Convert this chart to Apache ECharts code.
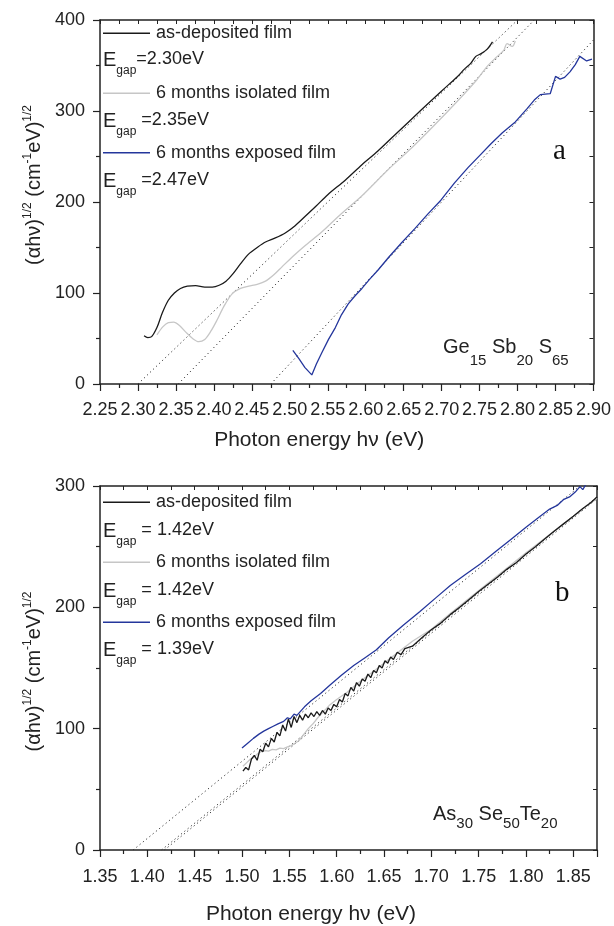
<!DOCTYPE html>
<html><head><meta charset="utf-8">
<script src="https://cdn.jsdelivr.net/npm/echarts@6/dist/echarts.min.js"></script>
<style>html,body{margin:0;padding:0;background:#fff}#c{width:614px;height:926px}</style>
</head><body><div id="c"></div>
<script>
const FONT = "'Liberation Sans', Arial, Helvetica, sans-serif";
const SERIF = "'Liberation Serif', 'Times New Roman', serif";

// ---------- legend / annotation text ----------
const legendNames = ['as-deposited film', '6 months isolated film', '6 months exposed film'];
const egapA = ['=2.30eV', ' =2.35eV', ' =2.47eV'];
const egapB = [' = 1.42eV', ' = 1.42eV', ' = 1.39eV'];

// ---------- axes (ranges and tick steps) ----------
const aXRange = [2.25, 2.90], aXStep = 0.05;
const aYRange = [0, 400], aYStep = 100;
const bXRange = [1.35, 1.875], bXStep = 0.05;
const bYRange = [0, 300], bYStep = 100;

// ---------- panel a : Ge15Sb20S65 ----------
const aDepX = [2.308,2.313,2.318,2.325,2.332,2.340,2.348,2.356,2.365,2.376,2.388,2.398,2.407,2.416,2.425,2.435,2.446,2.457,2.468,2.481,2.494,2.507,2.520,2.534,2.550,2.573,2.595,2.616,2.640,2.673,2.700,2.721,2.730,2.738,2.745,2.752,2.760,2.767];
const aDepY = [53,51,52,62,78,92,100,105,107.5,108,106.5,106.5,108.5,113,121,132,143,150,156,160.5,166,174,184,195,208,224,241,256,275,301,322,338,346,352,360,363,368,376];

const aIsoX = [2.325,2.333,2.340,2.347,2.355,2.363,2.372,2.380,2.388,2.396,2.404,2.413,2.424,2.435,2.446,2.457,2.468,2.479,2.490,2.505,2.520,2.542,2.565,2.594,2.630,2.660,2.690,2.721,2.745,2.760,2.772,2.782,2.786,2.793,2.797];
const aIsoY = [54,63,67.5,68,64,57,50,46.5,49,58,70,85,99,105,107.5,109.5,113,120,129,141,152,167,185,206,236,259,284,311,333,349,359,367,374,371,377];

const aExpX = [2.504,2.512,2.520,2.529,2.535,2.542,2.551,2.560,2.568,2.577,2.586,2.595,2.605,2.616,2.630,2.647,2.665,2.682,2.699,2.717,2.735,2.750,2.765,2.780,2.797,2.812,2.822,2.830,2.843,2.850,2.856,2.862,2.869,2.876,2.882,2.891,2.898];
const aExpY = [37,28,18,10,22,34,49,62,76,88,97,105,115,125,139,155,171,187,202,221,238,251,264,276,288,302,312,318,319,338,335,337,343,351,360,355,357];

const aFitDep = [[2.30, 0], [2.80, 400]];
const aFitIso = [[2.353, 0], [2.822, 400]];
const aFitExp = [[2.475, 0], [2.90, 378]];

// ---------- panel b : As30Se50Te20 ----------
const bDepX = [1.501,1.504,1.507,1.510,1.513,1.516,1.519,1.522,1.525,1.528,1.531,1.534,1.537,1.540,1.543,1.546,1.549,1.552,1.555,1.558,1.561,1.564,1.567,1.570,1.573,1.576,1.579,1.582,1.585,1.588,1.591,1.594,1.597,1.600,1.603,1.606,1.609,1.612,1.615,1.618,1.621,1.624,1.627,1.630,1.633,1.636,1.639,1.642,1.645,1.648,1.651,1.654,1.657,1.660,1.664,1.668,1.672,1.680,1.690,1.700,1.710,1.720,1.730,1.740,1.750,1.760,1.770,1.780,1.790,1.800,1.810,1.820,1.830,1.840,1.850,1.860,1.868,1.875];
const bDepY = [65,68,66,75,78,74,83,81,88,85,92,89,97,94,103,98,108,101,110,105,111,107,112,109,113,110,114,111,115,112,117,115,120,118,124,122,129,127,134,131,138,135,141,139,145,142,148,146,152,150,156,154,159,157,163,161,166,168,175,181.5,187,194,200,206.5,213,219,225,231.5,237,244,250,256.5,263,269,275,281.5,286,291];

const bIsoX = [1.501,1.505,1.509,1.512,1.516,1.520,1.524,1.528,1.532,1.536,1.540,1.544,1.548,1.552,1.556,1.560,1.565,1.570,1.575,1.580,1.586,1.592,1.600,1.611,1.625,1.640,1.660,1.680,1.700,1.720,1.740,1.760,1.780,1.800,1.820,1.840,1.860,1.875];
const bIsoY = [69,72,75,76,79,81,82,81.5,83,82.5,84,83.5,85,86,88,90,95,100,104,109,114,119,124,130,139,148,160,172,182,195,207.5,220,232.5,245,257,269,281,290];

const bExpX = [1.500,1.506,1.512,1.518,1.523,1.528,1.533,1.538,1.544,1.548,1.551,1.555,1.558,1.566,1.573,1.583,1.593,1.605,1.618,1.630,1.642,1.655,1.670,1.688,1.705,1.720,1.736,1.752,1.768,1.784,1.800,1.815,1.825,1.833,1.840,1.846,1.852,1.857,1.860,1.863];
const bExpY = [84,88,92,95.5,98,100,102,104,106,109,108,112,111,118,123,129,136,144,152,158.5,165,175,185,196.5,208,218,227,236,246,256,266,275,281,284,289,291,295,299.5,297,301];

const bFitDep = [[1.415, 0], [1.875, 291]];
const bFitIso = [[1.418, 0], [1.875, 289.5]];
const bFitExp = [[1.385, 0], [1.857, 300]];

const COL_DEP = '#1a1a1a', COL_ISO = '#c6c6c6', COL_EXP = '#24369c';
const COLS = [COL_DEP, COL_ISO, COL_EXP];
const AXC = '#222';

function pairs(xs, ys) { return xs.map((x, i) => [x, ys[i]]); }

function curve(name, xs, ys, color, gi, smooth) {
  return { type: 'line', name, xAxisIndex: gi * 2, yAxisIndex: gi * 2, data: pairs(xs, ys),
    symbol: 'none', smooth: smooth || false, silent: true, z: 3,
    lineStyle: { color, width: 1.3 }, itemStyle: { color } };
}
function fit(data, gi) {
  return { type: 'line', xAxisIndex: gi * 2, yAxisIndex: gi * 2, data, symbol: 'none', silent: true, z: 2,
    lineStyle: { color: '#333', width: 1, type: [1.2, 3] } };
}

function mainX(gi, range, step, nameGap, padRight, margin) {
  return { gridIndex: gi, type: 'value', min: range[0], max: range[1], interval: step,
    axisLine: { show: true, onZero: false, lineStyle: { color: AXC, width: 1.5 } },
    axisTick: { show: true, length: 7, lineStyle: { color: AXC, width: 1.2 } },
    minorTick: { show: true, splitNumber: 2, length: 4, lineStyle: { color: AXC, width: 1.2 } },
    splitLine: { show: false }, minorSplitLine: { show: false },
    axisLabel: { fontSize: 18, fontFamily: FONT, color: AXC, margin, showMaxLabel: range[1] === 2.90,
      formatter: v => v.toFixed(2) },
    name: 'Photon energy hν (eV)', nameLocation: 'middle', nameGap,
    nameTextStyle: { fontSize: 21, fontFamily: FONT, color: AXC, padding: [0, padRight, 0, 0] } };
}
function topX(gi, range) {
  return { gridIndex: gi, type: 'value', position: 'top', min: range[0], max: range[1], interval: 0.025,
    axisLine: { show: true, onZero: false, lineStyle: { color: AXC, width: 1.5 } },
    axisTick: { show: true, inside: true, length: 4, lineStyle: { color: AXC, width: 1 } },
    axisLabel: { show: false }, splitLine: { show: false } };
}
const yRich = {
  m: { fontSize: 20, fontFamily: FONT, color: AXC, lineHeight: 24, verticalAlign: 'middle' },
  s: { fontSize: 12, fontFamily: FONT, color: AXC, lineHeight: 12, verticalAlign: 'top' }
};
function mainY(gi, range, step, padL, padR) {
  return { gridIndex: gi, type: 'value', min: range[0], max: range[1], interval: step,
    axisLine: { show: true, onZero: false, lineStyle: { color: AXC, width: 1.5 } },
    axisTick: { show: true, length: 7, lineStyle: { color: AXC, width: 1.2 } },
    minorTick: { show: true, splitNumber: 2, length: 4, lineStyle: { color: AXC, width: 1.2 } },
    splitLine: { show: false },
    axisLabel: { fontSize: 18, fontFamily: FONT, color: AXC, margin: 15 },
    name: '{m|(αhν)}{s|1/2}{m| (cm}{s|-1}{m|eV)}{s|1/2}', nameLocation: 'middle', nameGap: 52, nameRotate: 90,
    nameTextStyle: { rich: yRich, padding: [0, padR, 0, padL] } };
}
function rightY(gi, range) {
  return { gridIndex: gi, type: 'value', position: 'right', min: range[0], max: range[1], interval: 50,
    axisLine: { show: true, onZero: false, lineStyle: { color: AXC, width: 1.5 } },
    axisTick: { show: true, inside: true, length: 4, lineStyle: { color: AXC, width: 1 } },
    axisLabel: { show: false }, splitLine: { show: false } };
}

// legend drawn as graphic keys: a short line and its label for each series
function legendKeys(ys) {
  const out = [];
  ys.forEach((y, i) => {
    out.push({ type: 'line', silent: true, shape: { x1: 103, y1: y, x2: 150, y2: y },
      style: { stroke: COLS[i], lineWidth: 1.4 } });
    out.push({ type: 'text', silent: true, x: 156, y: y,
      style: { text: legendNames[i], fontSize: 18, fontFamily: FONT, fill: AXC, verticalAlign: 'middle', align: 'left' } });
  });
  return out;
}

const egRich = {
  E: { fontSize: 20, fontFamily: FONT, fill: AXC, lineHeight: 18, verticalAlign: 'top' },
  g: { fontSize: 12, fontFamily: FONT, fill: AXC, lineHeight: 12, verticalAlign: 'bottom' },
  t: { fontSize: 18, fontFamily: FONT, fill: AXC, lineHeight: 18, verticalAlign: 'top' },
  z: { fontSize: 2, lineHeight: 27 }
};
function egapText(txt, top) {
  return { type: 'text', left: 103, top, silent: true,
    style: { text: '{E|E}{g|gap}{t|' + txt + '}{z| }', rich: egRich } };
}
function compText(parts, left, top, spacer) {
  const rich = {
    m: { fontSize: 20, fontFamily: FONT, fill: AXC, lineHeight: 20, verticalAlign: 'top' },
    s: { fontSize: 15, fontFamily: FONT, fill: AXC, lineHeight: 15, verticalAlign: 'bottom' },
    z: { fontSize: 2, lineHeight: spacer }
  };
  return { type: 'text', left, top, silent: true, style: { text: parts + '{z| }', rich } };
}

const chart = echarts.init(document.getElementById('c'), null, { renderer: 'canvas' });
chart.setOption({
  animation: false,
  backgroundColor: '#fff',
  grid: [
    { left: 100, top: 20, width: 497, height: 364 },
    { left: 100, top: 486, width: 497, height: 365 }
  ],
  xAxis: [mainX(0, aXRange, aXStep, 46, 55, 17), topX(0, aXRange), mainX(1, bXRange, bXStep, 54, 75, 18), topX(1, bXRange)],
  yAxis: [mainY(0, aYRange, aYStep, 34, 0), rightY(0, aYRange), mainY(1, bYRange, bYStep, 0, 7), rightY(1, bYRange)],
  series: [
    fit(aFitDep, 0), fit(aFitIso, 0), fit(aFitExp, 0),
    curve(legendNames[0], aDepX, aDepY, COL_DEP, 0, 0.3),
    curve(legendNames[1], aIsoX, aIsoY, COL_ISO, 0, 0.3),
    curve(legendNames[2], aExpX, aExpY, COL_EXP, 0, false),
    fit(bFitDep, 1), fit(bFitIso, 1), fit(bFitExp, 1),
    curve(legendNames[1], bIsoX, bIsoY, COL_ISO, 1, false),
    curve(legendNames[0], bDepX, bDepY, COL_DEP, 1, false),
    curve(legendNames[2], bExpX, bExpY, COL_EXP, 1, false)
  ],
  graphic: [].concat(
    legendKeys([33.3, 93.3, 152.7]),
    legendKeys([502.3, 562.3, 622.3]),
    [
      egapText(egapA[0], 50), egapText(egapA[1], 111), egapText(egapA[2], 171),
      egapText(egapB[0], 521), egapText(egapB[1], 581), egapText(egapB[2], 640),
      compText('{m|Ge}{s|15}{m| Sb}{s|20}{m| S}{s|65}', 443, 337, 31),
      compText('{m|As}{s|30}{m| Se}{s|50}{m|Te}{s|20}', 433, 804, 27),
      { type: 'text', left: 553, top: 137, silent: true, style: { text: 'a', fontSize: 29, fontFamily: SERIF, fill: '#111' } },
      { type: 'text', left: 555, top: 579, silent: true, style: { text: 'b', fontSize: 29, fontFamily: SERIF, fill: '#111' } }
    ])
});
</script></body></html>
